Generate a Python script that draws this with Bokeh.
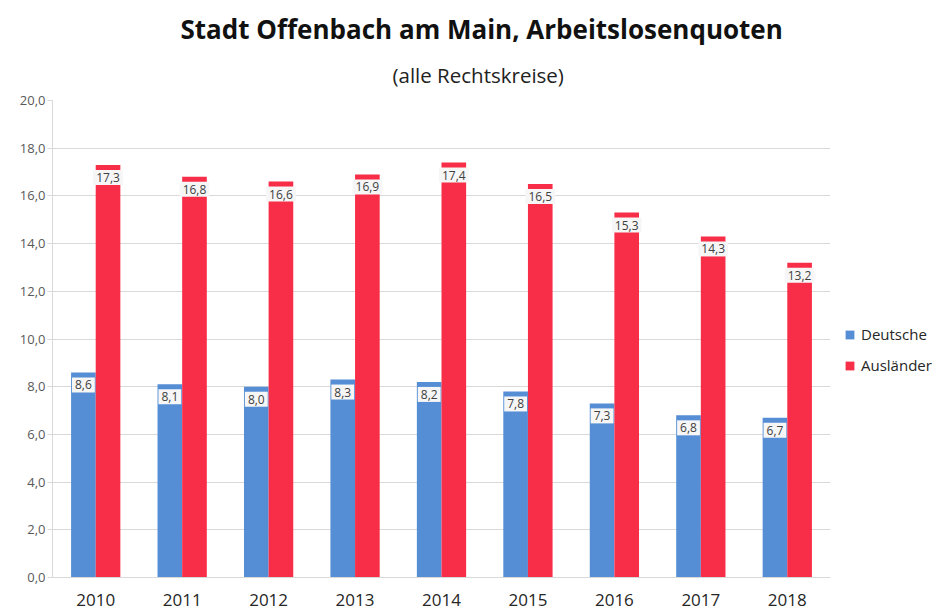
from bokeh.plotting import figure
from bokeh.models import ColumnDataSource, FactorRange, Legend, LegendItem, Title, FixedTicker
from bokeh.transform import dodge
from bokeh.core.properties import value
from bokeh.embed import file_html
from bokeh.resources import INLINE

years = ["2010", "2011", "2012", "2013", "2014", "2015", "2016", "2017", "2018"]
deutsche = [8.6, 8.1, 8.0, 8.3, 8.2, 7.8, 7.3, 6.8, 6.7]
auslaender = [17.3, 16.8, 16.6, 16.9, 17.4, 16.5, 15.3, 14.3, 13.2]
y_ticks = [0, 2, 4, 6, 8, 10, 12, 14, 16, 18, 20]

def fmt(v):
    return f"{v:.1f}".replace(".", ",")

src = ColumnDataSource(dict(
    year=years, d=deutsche, a=auslaender,
    dl=[fmt(v) for v in deutsche], al=[fmt(v) for v in auslaender],
))

FONT = "Open Sans"
BLUE = "#558ed5"
RED = "#f82d47"

p = figure(x_range=FactorRange(*years, range_padding=0), y_range=(0, 20),
           frame_width=778, frame_height=477, output_backend="svg", toolbar_location=None,
           min_border_left=52, min_border_top=98, min_border_right=108, min_border_bottom=33)
p.x_range.factor_padding = 0

bd = p.vbar(x=dodge("year", -0.1425, range=p.x_range), top="d", width=0.285,
            source=src, fill_color=BLUE, line_color=None)
ba = p.vbar(x=dodge("year", 0.1425, range=p.x_range), top="a", width=0.285,
            source=src, fill_color=RED, line_color=None)

for col, lab, off in (("d", "dl", -0.1425), ("a", "al", 0.1425)):
    p.text(x=dodge("year", off, range=p.x_range), y=col, text=lab, source=src,
           y_offset=5, text_align="center", text_baseline="top",
           text_font=value(FONT), text_font_size="12px", text_color="#404040",
           background_fill_color="#f6f6f6", padding=3)

sub = Title(text="(alle Rechtskreise)", align="left", text_font=FONT,
            text_font_size="20.5px", text_font_style="normal", text_color="#222222",
            offset=340, standoff=24)
main = Title(text="Stadt Offenbach am Main, Arbeitslosenquoten", align="left", text_font=FONT,
             text_font_size="26px", text_font_style="bold", text_color="#111111",
             offset=128, standoff=0)
spacer = Title(text=" ", text_font_size="6px", standoff=0)
p.add_layout(sub, "above")
p.add_layout(main, "above")
p.add_layout(spacer, "above")

p.yaxis.ticker = FixedTicker(ticks=y_ticks)
p.yaxis.major_label_overrides = {t: fmt(t) for t in y_ticks}
p.yaxis.major_label_text_font = FONT
p.yaxis.major_label_text_font_size = "13px"
p.yaxis.major_label_text_color = "#595959"
p.yaxis.axis_line_color = "#d9d9d9"
p.yaxis.major_tick_line_color = "#d9d9d9"
p.yaxis.major_tick_out = 5
p.yaxis.major_tick_in = 0
p.yaxis.minor_tick_line_color = None
p.yaxis.major_label_standoff = 2

p.xaxis.major_label_text_font = FONT
p.xaxis.major_label_text_font_size = "17px"
p.xaxis.major_label_text_color = "#262626"
p.xaxis.axis_line_color = "#d9d9d9"
p.xaxis.major_tick_line_color = None
p.xaxis.major_label_standoff = 10

p.xgrid.grid_line_color = None
p.ygrid.grid_line_color = "#d9d9d9"
p.outline_line_color = None

legend = Legend(items=[LegendItem(label="Deutsche", renderers=[bd]),
                       LegendItem(label="Ausländer", renderers=[ba])],
                location=(14, 202), label_text_font=FONT, label_text_font_size="15px",
                label_text_color="#262626", glyph_width=11, glyph_height=11,
                border_line_color=None, background_fill_alpha=0, spacing=11,
                margin=0, padding=12, label_standoff=6)
p.add_layout(legend, "right")

open("out.html", "w").write(file_html(p, INLINE))
